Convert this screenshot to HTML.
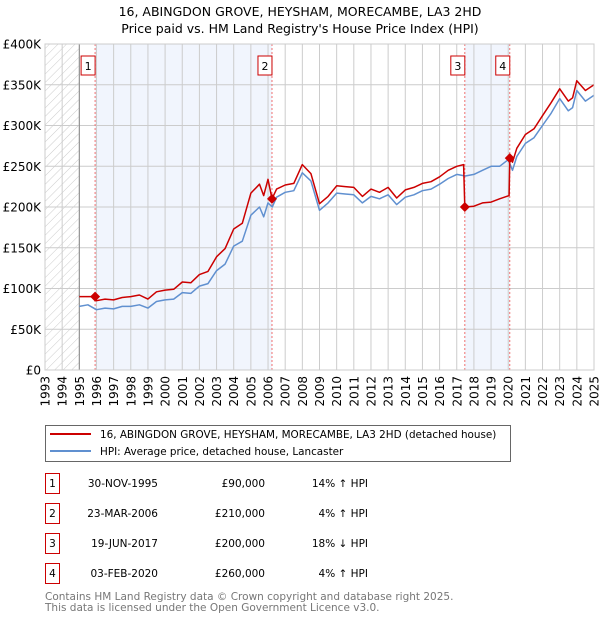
<!DOCTYPE html>
<html><head><meta charset="utf-8">
<style>
html,body{margin:0;padding:0;background:#fff;}
body{width:600px;height:620px;overflow:hidden;font-family:"DejaVu Sans","Liberation Sans",sans-serif;}
svg text{font-family:"DejaVu Sans","Liberation Sans",sans-serif;}
</style></head>
<body>
<svg id="chart" width="600" height="620" xmlns="http://www.w3.org/2000/svg">
<defs>
<pattern id="hatch" patternUnits="userSpaceOnUse" width="6" height="6" patternTransform="rotate(45)">
<line x1="0" y1="0" x2="0" y2="6" stroke="#ccc" stroke-width="1"/>
</pattern>
</defs>
<text x="300" y="16" text-anchor="middle" font-size="12.5" fill="#000">16, ABINGDON GROVE, HEYSHAM, MORECAMBE, LA3 2HD</text>
<text x="300" y="33" text-anchor="middle" font-size="12.5" fill="#000">Price paid vs. HM Land Registry's House Price Index (HPI)</text>
<g id="plot"></g>
<g>
<rect x="45.5" y="425.5" width="465" height="36" fill="#fff" stroke="#666"/>
<line x1="50" y1="434" x2="91" y2="434" stroke="#cc0000" stroke-width="2"/>
<text x="100" y="438" font-size="10.4">16, ABINGDON GROVE, HEYSHAM, MORECAMBE, LA3 2HD (detached house)</text>
<line x1="50" y1="451" x2="91" y2="451" stroke="#6090d0" stroke-width="2"/>
<text x="100" y="455" font-size="10.4">HPI: Average price, detached house, Lancaster</text>
</g>
<g id="table"></g>
<text x="45" y="600" font-size="10.5" fill="#777">Contains HM Land Registry data © Crown copyright and database right 2025.</text>
<text x="45" y="611" font-size="10.5" fill="#777">This data is licensed under the Open Government Licence v3.0.</text>
</svg>
<script>
const yearTicks = [1993,1994,1995,1996,1997,1998,1999,2000,2001,2002,2003,2004,2005,2006,2007,2008,2009,2010,2011,2012,2013,2014,2015,2016,2017,2018,2019,2020,2021,2022,2023,2024,2025];
const priceTicks = [0,50,100,150,200,250,300,350,400];
const priceTickLabels = ["£0","£50K","£100K","£150K","£200K","£250K","£300K","£350K","£400K"];
const hpiDates = [1995.0,1995.5,1996.0,1996.5,1997.0,1997.5,1998.0,1998.5,1999.0,1999.5,2000.0,2000.5,2001.0,2001.5,2002.0,2002.5,2003.0,2003.5,2004.0,2004.5,2005.0,2005.5,2005.75,2006.0,2006.25,2006.5,2007.0,2007.5,2008.0,2008.5,2009.0,2009.5,2010.0,2010.5,2011.0,2011.5,2012.0,2012.5,2013.0,2013.5,2014.0,2014.5,2015.0,2015.5,2016.0,2016.5,2017.0,2017.5,2018.0,2018.5,2019.0,2019.5,2020.0,2020.25,2020.5,2021.0,2021.5,2022.0,2022.5,2023.0,2023.5,2023.75,2024.0,2024.5,2025.0];
const hpiValues = [78,80,74,76,75,78,78,80,76,84,86,87,95,94,103,106,122,130,152,158,190,200,188,205,200,212,218,220,242,232,196,205,217,216,215,205,213,210,215,203,212,215,220,222,228,235,240,238,240,245,250,250,258,245,262,278,285,300,315,333,318,322,343,330,337];
const redDates = [1995.0,1995.5,1995.92,1996.0,1996.5,1997.0,1997.5,1998.0,1998.5,1999.0,1999.5,2000.0,2000.5,2001.0,2001.5,2002.0,2002.5,2003.0,2003.5,2004.0,2004.5,2005.0,2005.5,2005.75,2006.0,2006.23,2006.5,2007.0,2007.5,2008.0,2008.5,2009.0,2009.5,2010.0,2010.5,2011.0,2011.5,2012.0,2012.5,2013.0,2013.5,2014.0,2014.5,2015.0,2015.5,2016.0,2016.5,2017.0,2017.4,2017.47,2018.0,2018.5,2019.0,2019.5,2020.05,2020.09,2020.25,2020.5,2021.0,2021.5,2022.0,2022.5,2023.0,2023.5,2023.75,2024.0,2024.5,2025.0];
const redValues = [90,90,90,85,87,86,89,90,92,87,96,98,99,108,107,117,121,139,149,173,180,217,228,214,234,210,222,227,229,252,241,204,213,226,225,224,213,222,218,224,211,221,224,229,231,237,245,250,252,200,201,205,206,210,214,260,255,272,289,296,312,328,345,330,334,355,343,350];
const saleDates = [1995.92,2006.23,2017.47,2020.09];
const salePrices = [90,210,200,260];
const saleLabels = ["1","2","3","4"];
const saleDateText = ["30-NOV-1995","23-MAR-2006","19-JUN-2017","03-FEB-2020"];
const salePriceText = ["£90,000","£210,000","£200,000","£260,000"];
const saleHpiText = ["14% \u2191 HPI","4% \u2191 HPI","18% \u2193 HPI","4% \u2191 HPI"];

const NS="http://www.w3.org/2000/svg";
const X0=45,X1=594,Y0=370,Y1=44;
const xs=d=>X0+(d-1993)/(2025-1993)*(X1-X0);
const ys=v=>Y0-(v/400)*(Y0-Y1);
function mk(tag,attrs,parent){const e=document.createElementNS(NS,tag);for(const k in attrs)e.setAttribute(k,attrs[k]);parent.appendChild(e);return e;}
const plot=document.getElementById('plot');

for(let i=0;i<saleDates.length;i+=2){
  const r=mk('rect',{x:xs(saleDates[i]),y:Y1,width:xs(saleDates[i+1])-xs(saleDates[i]),height:Y0-Y1,fill:'#f1f5fd'},plot);
  
  
}
const hatch=mk('rect',{x:X0,y:Y1,width:xs(1995)-X0,height:Y0-Y1,fill:'url(#hatch)'},plot);



yearTicks.forEach(y=>{
  const l=mk('line',{x1:xs(y),x2:xs(y),y1:Y1,y2:Y0,stroke:'#ccc','stroke-width':1},plot);
  
  
  const t=mk('text',{x:0,y:0,'font-size':12,'text-anchor':'end',transform:`translate(${xs(y)+4.5},${Y0+6}) rotate(-90)`},plot);
  t.textContent=y;
  
  
});
priceTicks.forEach((p,i)=>{
  const l=mk('line',{x1:X0,x2:X1,y1:ys(p),y2:ys(p),stroke:'#ccc','stroke-width':1},plot);
  
  
  const t=mk('text',{x:X0-4,y:ys(p)+4.5,'font-size':12,'text-anchor':'end'},plot);
  t.textContent=priceTickLabels[i];
  
  
});
const ax=mk('line',{x1:xs(1995),x2:xs(1995),y1:Y1,y2:Y0,stroke:'#888','stroke-width':1},plot);



saleDates.forEach((d,i)=>{
  const l=mk('line',{x1:xs(d),x2:xs(d),y1:Y1,y2:Y0,stroke:'#f07070','stroke-width':1,'stroke-dasharray':'2,2'},plot);
  
  
  const bx=xs(d)-14;
  const r=mk('rect',{x:bx,y:56,width:14,height:19,fill:'#fff',stroke:'#cc0000','stroke-width':1},plot);
  
  
  const t=mk('text',{x:bx+7,y:70,'font-size':11,'text-anchor':'middle'},plot);
  t.textContent=saleLabels[i];
  
  
});

function line(dates,vals,color,name){
  const pts=dates.map((d,i)=>xs(d).toFixed(1)+','+ys(vals[i]).toFixed(1)).join(' ');
  const p=mk('polyline',{points:pts,fill:'none',stroke:color,'stroke-width':1.5,'stroke-linejoin':'round'},plot);
  
  
}
line(hpiDates,hpiValues,'#6090d0','hpi-line');
line(redDates,redValues,'#cc0000','price-paid-line');
saleDates.forEach((d,i)=>{
  const c=mk('path',{d:`M${xs(d)},${ys(salePrices[i])-5} l5,5 l-5,5 l-5,-5z`,fill:'#cc0000'},plot);
  
  
});
const border=mk('rect',{x:X0,y:Y1,width:X1-X0,height:Y0-Y1,fill:'none',stroke:'#ccc'},plot);



const tb=document.getElementById('table');
saleLabels.forEach((lab,i)=>{
  const cy=483+i*30;
  const r=mk('rect',{x:45.5,y:cy-9.5,width:14,height:20,fill:'#fff',stroke:'#cc0000'},tb);
  
  
  const cells=[[52.5,'middle',lab,'row-number'],[158,'end',saleDateText[i],'row-date'],[265,'end',salePriceText[i],'row-price'],[368,'end',saleHpiText[i],'row-hpi-diff']];
  cells.forEach(c=>{
    const t=mk('text',{x:c[0],y:cy+4,'font-size':10.5,'text-anchor':c[1]},tb);
    t.textContent=c[2];
    
    
  });
});
</script>
</body></html>
